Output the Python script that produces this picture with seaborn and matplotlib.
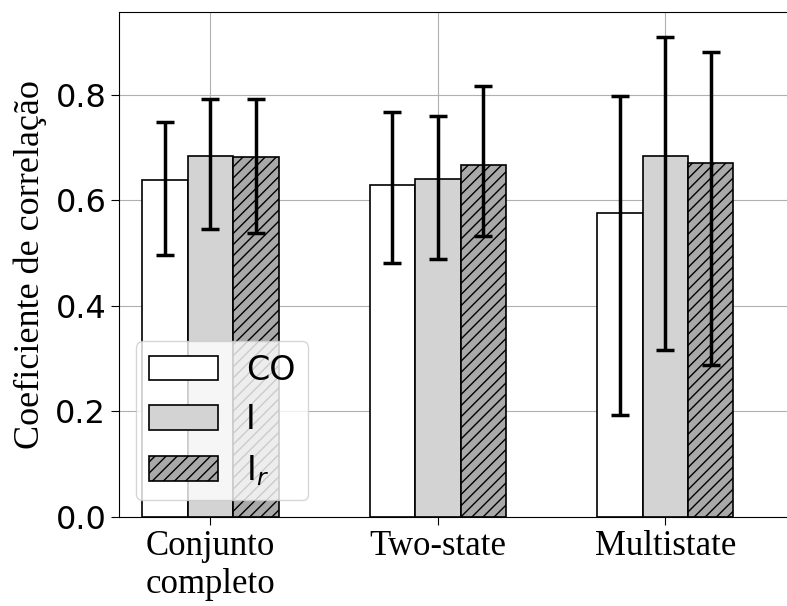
import matplotlib
matplotlib.use("Agg")
import matplotlib.pyplot as plt
from matplotlib.patches import Patch
import numpy as np
import pandas as pd
import seaborn as sns

groups = ["Conjunto\ncompleto", "Two-state", "Multistate"]
series = ["CO", "I", "I$_r$"]
colors = ["white", "lightgray", "darkgray"]
hatches = ["", "", "///"]

co_mean = [0.638, 0.630, 0.577]
i_mean = [0.685, 0.640, 0.685]
ir_mean = [0.683, 0.667, 0.671]

co_upper = [0.748, 0.768, 0.797]
i_upper = [0.793, 0.759, 0.910]
ir_upper = [0.793, 0.816, 0.881]

co_lower = [0.497, 0.481, 0.193]
i_lower = [0.545, 0.489, 0.316]
ir_lower = [0.538, 0.532, 0.288]

means = [co_mean, i_mean, ir_mean]
uppers = [co_upper, i_upper, ir_upper]
lowers = [co_lower, i_lower, ir_lower]

rows = []
for s, m in zip(series, means):
    for g, v in zip(groups, m):
        rows.append({"group": g, "series": s, "value": v})
df = pd.DataFrame(rows)

fig = plt.figure(figsize=(7.87, 6.06), dpi=100)
ax = fig.add_axes([0.1518, 0.1469, 0.8669, 0.8333])
ax.set_axisbelow(True)

sns.barplot(data=df, x="group", y="value", hue="series", order=groups,
            hue_order=series, palette=colors, saturation=1, errorbar=None,
            width=0.6, gap=0, edgecolor="black", linewidth=1.2, ax=ax,
            legend=False)

bar_containers = list(ax.containers)
for k, cont in enumerate(bar_containers):
    xs, ys = [], []
    for p in cont.patches:
        p.set_hatch(hatches[k])
        p.set_edgecolor("black")
        xs.append(p.get_x() + p.get_width() / 2)
        ys.append(p.get_height())
    ys = np.array(ys)
    yerr = np.vstack([ys - np.array(lowers[k]), np.array(uppers[k]) - ys])
    ax.errorbar(xs, ys, yerr=yerr, fmt="none", ecolor="black",
                elinewidth=2.5, capsize=6.7, capthick=2.5, zorder=5)

ax.set_xlim(-0.4, 2.6)
ax.set_ylim(0, 0.957)
ax.set_yticks([0.0, 0.2, 0.4, 0.6, 0.8])
ax.set_yticklabels(["0.0", "0.2", "0.4", "0.6", "0.8"])
ax.tick_params(axis="y", labelsize=23, length=6)
ax.tick_params(axis="x", length=6)
for lab in ax.get_xticklabels():
    lab.set_fontfamily("Liberation Serif")
    lab.set_fontsize(25)
ax.set_xlabel("")
ax.set_ylabel("Coeficiente de correlação", fontfamily="Liberation Serif",
              fontsize=26)
ax.yaxis.set_label_coords(-0.106, 0.5)
ax.grid(True, color="#b0b0b0", linewidth=0.8)

handles = [Patch(facecolor=c, edgecolor="black", hatch=h, label=s,
                 linewidth=1.2)
           for c, h, s in zip(colors, hatches, series)]
ax.legend(handles=handles, loc="lower left", fontsize=24,
          handlelength=2.07, handleheight=0.75, handletextpad=0.85,
          labelspacing=0.5, borderaxespad=0.5, borderpad=0.38)

fig.savefig("out.png", dpi=100)
